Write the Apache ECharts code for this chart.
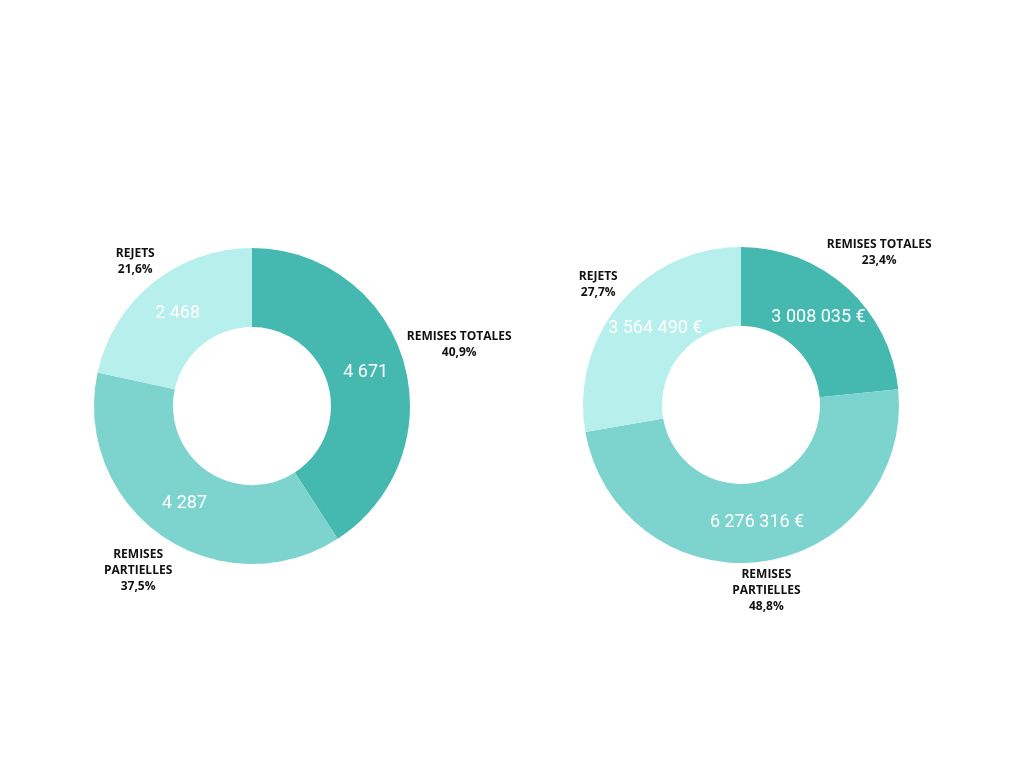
<!DOCTYPE html>
<html>
<head>
<meta charset="utf-8">
<script src="https://cdn.jsdelivr.net/npm/echarts@6/dist/echarts.min.js"></script>
<style>
  html, body { margin: 0; padding: 0; background: #ffffff; }
  #main { width: 1024px; height: 768px; }
</style>
</head>
<body>
<div id="main"></div>
<script>
// data
var categories = ['REMISES TOTALES', 'REMISES PARTIELLES', 'REJETS'];
var countValues = [4671, 4287, 2468];
var amountValues = [3008035, 6276316, 3564490];

var colors = ['#45b8b0', '#7dd3cd', '#b6efec'];
var innerR = 79, outerR = 158;

function spaced(n) {
  return String(n).replace(/\B(?=(\d{3})+(?!\d))/g, ' ');
}
function sum(arr) {
  return arr.reduce(function (a, b) { return a + b; }, 0);
}
function pct(v, arr) {
  return (v / sum(arr) * 100).toFixed(1).replace('.', ',') + '%';
}
// wrap long names on word boundaries (max ~16 chars per line)
function wrap(name) {
  var words = name.split(' '), lines = [], cur = '';
  words.forEach(function (w) {
    if (cur && (cur + ' ' + w).length > 16) { lines.push(cur); cur = w; }
    else cur = cur ? cur + ' ' + w : w;
  });
  lines.push(cur);
  return lines.join('\n');
}

var pies = [
  { values: countValues, center: [252, 406], unit: '' },
  { values: amountValues, center: [741, 405], unit: ' €' }
];

function midAngle(values, idx) {
  var before = 0;
  for (var i = 0; i < idx; i++) before += values[i];
  return (before + values[idx] / 2) / sum(values) * Math.PI * 2;
}

// distance from the pie centre to the nearest point of a box centred at (x, y)
function nearest(x, y, w, h) {
  var px = Math.max(x - w, Math.min(0, x + w));
  var py = Math.max(y - h, Math.min(0, y + h));
  return Math.sqrt(px * px + py * py);
}
// distance from the pie centre to the farthest corner of a box
function farthest(x, y, w, h) {
  var fx = Math.abs(x) + w, fy = Math.abs(y) + h;
  return Math.sqrt(fx * fx + fy * fy);
}

function pieData(values) {
  return categories.map(function (c, i) {
    return { name: c, value: values[i], itemStyle: { color: colors[i] } };
  });
}

var series = [];
pies.forEach(function (p) {
  // visible ring with values inside
  series.push({
    type: 'pie',
    center: p.center,
    radius: [innerR, outerR],
    startAngle: 90,
    clockwise: true,
    avoidLabelOverlap: false,
    silent: true,
    data: pieData(p.values),
    label: {
      position: 'inside',
      color: '#ffffff',
      fontFamily: 'Roboto',
      fontSize: 18,
      formatter: function (d) { return spaced(d.value) + p.unit; }
    },
    labelLine: { show: false },
    labelLayout: function (params) {
      var a = midAngle(p.values, params.dataIndex);
      var r = (innerR + outerR) / 2;
      var x = r * Math.sin(a), y = -r * Math.cos(a);
      var w = params.labelRect.width / 2, h = params.labelRect.height / 2;
      // slide towards the centre line until the text fits inside the ring
      var step = x > 0 ? -0.5 : 0.5, n = 0;
      while (farthest(x, y, w, h) > outerR && n < 200) { x += step; n++; }
      return {
        x: p.center[0] + x,
        y: p.center[1] + y,
        align: 'center',
        verticalAlign: 'middle'
      };
    }
  });
  // transparent copy carrying the outside name / percent labels
  series.push({
    type: 'pie',
    center: p.center,
    radius: [innerR, outerR],
    startAngle: 90,
    clockwise: true,
    avoidLabelOverlap: false,
    silent: true,
    data: pieData(p.values).map(function (d) {
      d.itemStyle = { color: 'rgba(0,0,0,0)' };
      return d;
    }),
    label: {
      position: 'outside',
      color: '#111111',
      fontFamily: 'Open Sans',
      fontWeight: 'bold',
      fontSize: 12,
      lineHeight: 16,
      formatter: function (d) { return wrap(d.name) + '\n' + pct(d.value, p.values); }
    },
    labelLine: { show: false },
    labelLayout: function (params) {
      var a = midAngle(p.values, params.dataIndex);
      var sx = Math.sin(a), cy = Math.cos(a);
      var w = params.labelRect.width / 2, h = params.labelRect.height / 2;
      var d = outerR, n = 0;
      while (nearest(d * sx, -d * cy, w, h) < outerR + 3 && n < 400) { d += 0.5; n++; }
      return {
        x: p.center[0] + d * sx,
        y: p.center[1] - d * cy,
        align: 'center',
        verticalAlign: 'middle'
      };
    }
  });
});

var myChart = echarts.init(document.getElementById('main'));
myChart.setOption({
  backgroundColor: '#ffffff',
  animation: false,
  series: series
});
</script>
</body>
</html>
